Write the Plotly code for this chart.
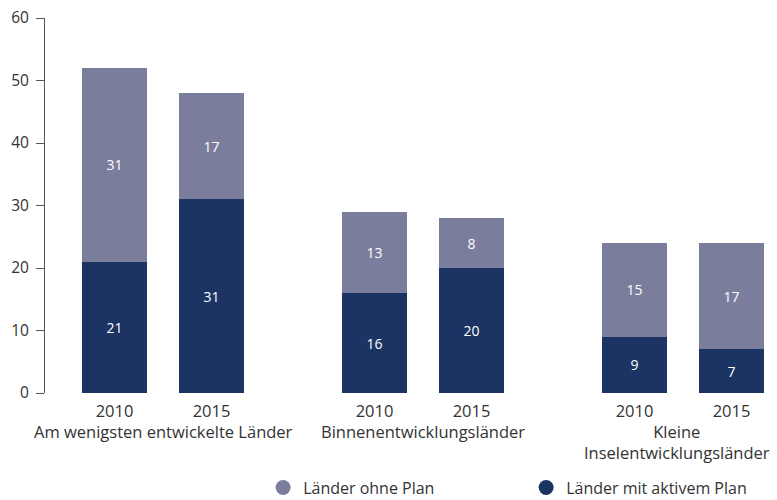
import plotly.graph_objects as go

groups = ["Am wenigsten entwickelte Länder", "Binnenentwicklungsländer", "Kleine<br>Inselentwicklungsländer"]
years = ["2010", "2015"]
active = [[21, 31], [16, 20], [9, 7]]      # Länder mit aktivem Plan
without = [[31, 17], [13, 8], [15, 17]]    # Länder ohne Plan
y_ticks = [0, 10, 20, 30, 40, 50, 60]

C_DARK = "#1b3464"
C_LIGHT = "#7b7d9c"
FONT = "Open Sans"
TXT = "#333333"

GROUP_STEP = 260
BAR_STEP = 97
BAR_W = 65
LABEL_SHIFT = [0, 0, -6]

xs, ya, yw, tick_text = [], [], [], []
for g in range(len(groups)):
    for j in range(len(years)):
        xs.append(g * GROUP_STEP + j * BAR_STEP)
        ya.append(active[g][j])
        yw.append(without[g][j])
        tick_text.append(years[j])

fig = go.Figure()
fig.add_trace(go.Bar(x=xs, y=ya, width=BAR_W, marker=dict(color=C_DARK, line_width=0), text=ya,
                     textposition="inside", insidetextanchor="middle",
                     textfont=dict(color="white", size=14, family=FONT),
                     showlegend=False, hoverinfo="skip"))
fig.add_trace(go.Bar(x=xs, y=yw, width=BAR_W, marker=dict(color=C_LIGHT, line_width=0), text=yw,
                     textposition="inside", insidetextanchor="middle",
                     textfont=dict(color="white", size=14, family=FONT),
                     showlegend=False, hoverinfo="skip"))
# legend entries with circle markers
fig.add_trace(go.Scatter(x=[None], y=[None], mode="markers", name="Länder ohne Plan",
                         marker=dict(color=C_LIGHT, size=15, symbol="circle")))
fig.add_trace(go.Scatter(x=[None], y=[None], mode="markers", name="Länder mit aktivem Plan",
                         marker=dict(color=C_DARK, size=15, symbol="circle")))

for g, name in enumerate(groups):
    fig.add_annotation(x=g * GROUP_STEP + BAR_STEP / 2, y=0, xref="x", yref="paper",
                       yanchor="top", yshift=-25, xshift=LABEL_SHIFT[g], text=name,
                       showarrow=False, font=dict(size=16.5, color=TXT, family=FONT))

fig.update_layout(
    width=777, height=500, barmode="stack",
    margin=dict(l=45, r=0, t=18, b=107, autoexpand=False),
    plot_bgcolor="white", paper_bgcolor="white",
    font=dict(family=FONT, color=TXT),
    legend=dict(orientation="h", x=0.298, xanchor="left", y=-0.207, yanchor="top",
                entrywidth=218, font=dict(size=16, color=TXT),
                traceorder="normal", itemclick=False),
    xaxis=dict(range=[-69.5, 662.5], tickvals=xs, ticktext=tick_text, automargin=False,
               showgrid=False, zeroline=False, showline=False, ticks="",
               tickfont=dict(size=16.5, color=TXT), ticklabelstandoff=6),
    yaxis=dict(range=[0, 60], tickvals=y_ticks, showgrid=False, zeroline=False, automargin=False,
               showline=True, linecolor="#555555", linewidth=1, ticks="outside",
               ticklen=8, tickcolor="#555555", tickfont=dict(size=15.5, color=TXT),
               ticklabelstandoff=4, ticklabeloverflow="allow"),
)
fig.write_html("out.html", config={"displayModeBar": False},
               post_script="document.body.style.margin='0';document.body.style.overflow='hidden';")
